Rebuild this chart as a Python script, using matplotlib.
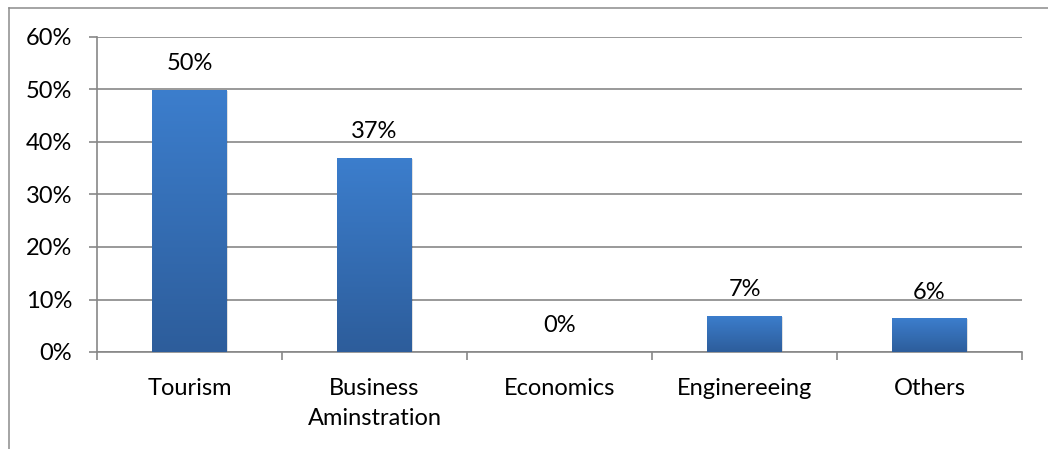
import matplotlib
matplotlib.use("Agg")
import matplotlib.pyplot as plt
import numpy as np
from matplotlib.lines import Line2D
from matplotlib.colors import LinearSegmentedColormap
from matplotlib.ticker import MultipleLocator, PercentFormatter

categories = ["Tourism", "Business\nAminstration", "Economics", "Enginereeing", "Others"]
shares = [0.50, 0.37, 0.0, 0.069, 0.064]

plt.rcParams['font.family'] = ['Lato', 'DejaVu Sans']

W, H = 1048, 449
fig = plt.figure(figsize=(W / 100, H / 100), dpi=100)
ax = fig.add_axes([97 / W, 1 - 352 / H, 925 / W, 315 / H])

grid_col = "#878787"
fs = 17
x = np.arange(len(categories))
bar_w = 0.405

bars = ax.bar(x, shares, width=bar_w, color="none", edgecolor="none", zorder=3)

# vertical blue gradient inside each bar, with a soft drop shadow
cmap = LinearSegmentedColormap.from_list("bar", ["#2d5d9b", "#3c7ecd"])
grad = np.linspace(0, 1, 256).reshape(-1, 1)
for rect, v in zip(bars, shares):
    if v <= 0:
        continue
    x0, w = rect.get_x(), rect.get_width()
    shadow = plt.Rectangle((x0 + 0.006, -0.002), w, v, facecolor="#000000",
                           alpha=0.12, edgecolor="none", zorder=2)
    ax.add_patch(shadow)
    im = ax.imshow(grad, cmap=cmap, aspect="auto", origin="lower",
                   extent=(x0, x0 + w, 0, v), zorder=3)
    im.set_clip_path(rect)

for xi, v in zip(x, shares):
    ax.annotate(f"{v:.0%}", (xi, v), xytext=(0, 19), textcoords="offset points",
                ha="center", va="center", fontsize=fs, color="#000000")

ax.set_xlim(-0.5, len(categories) - 0.5)
ax.set_ylim(0, 0.6)
ax.yaxis.set_major_locator(MultipleLocator(0.1))
ax.yaxis.set_major_formatter(PercentFormatter(1.0, decimals=0))
ax.set_xticks(x)
ax.set_xticklabels(categories, fontsize=fs, linespacing=1.5)
ax.set_xticks(np.arange(len(categories) + 1) - 0.5, minor=True)
ax.tick_params(axis="x", which="major", length=0, pad=19)
ax.tick_params(axis="x", which="minor", length=6, width=1.2, color=grid_col)
ax.tick_params(axis="y", length=6, width=1.2, color=grid_col, pad=12, labelsize=fs)

ax.grid(axis="y", color=grid_col, linewidth=1.2, zorder=0)
ax.set_axisbelow(True)
for s in ("top", "right"):
    ax.spines[s].set_visible(False)
for s in ("left", "bottom"):
    ax.spines[s].set_color(grid_col)
    ax.spines[s].set_linewidth(1.2)

# outer frame of the chart area
fig.add_artist(Line2D([8.5 / W, 8.5 / W], [0, 1 - 7.5 / H], transform=fig.transFigure,
                      color="#8c8c8c", linewidth=1.1))
fig.add_artist(Line2D([8.5 / W, 1], [1 - 7.5 / H, 1 - 7.5 / H], transform=fig.transFigure,
                      color="#8c8c8c", linewidth=1.1))

fig.savefig("out.png", dpi=100)
